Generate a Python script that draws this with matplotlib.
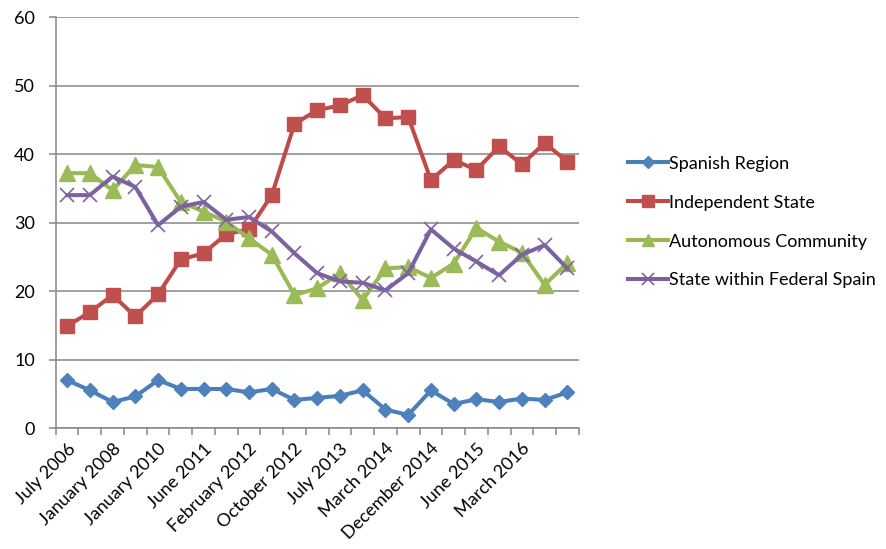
import numpy as np
import matplotlib.pyplot as plt
from matplotlib.lines import Line2D

# Survey waves (only every other one carries a label on the axis)
dates = ["July 2006", "", "January 2008", "", "January 2010", "", "June 2011", "",
         "February 2012", "", "October 2012", "", "July 2013", "", "March 2014", "",
         "December 2014", "", "June 2015", "", "March 2016", "", ""]

spanish_region = [7.0, 5.5, 3.8, 4.6, 7.0, 5.7, 5.7, 5.7, 5.2, 5.7, 4.1, 4.4,
                  4.7, 5.5, 2.7, 1.9, 5.5, 3.5, 4.2, 3.8, 4.3, 4.1, 5.2]
independent_state = [14.9, 16.9, 19.4, 16.3, 19.5, 24.6, 25.5, 28.3, 29.0, 34.0, 44.4, 46.4,
                     47.1, 48.6, 45.2, 45.4, 36.2, 39.1, 37.7, 41.1, 38.5, 41.6, 38.9]
autonomous_community = [37.2, 37.2, 34.7, 38.4, 38.1, 33.0, 31.6, 30.1, 27.7, 25.3, 19.4, 20.4,
                        22.6, 18.7, 23.3, 23.5, 21.9, 24.0, 29.2, 27.2, 25.6, 20.9, 24.1]
federal_state = [34.0, 34.0, 36.7, 35.2, 29.6, 32.3, 33.0, 30.4, 30.8, 28.7, 25.5, 22.6,
                 21.4, 21.2, 20.1, 22.6, 29.0, 26.2, 24.3, 22.3, 25.3, 26.7, 23.3]

series = [
    ("Spanish Region", spanish_region, "#4A7EBB", "#4F81BD", "D", 7.5),
    ("Independent State", independent_state, "#BE4B48", "#C0504D", "s", 10.5),
    ("Autonomous Community", autonomous_community, "#98B954", "#9BBB59", "^", 11),
    ("State within Federal Spain", federal_state, "#7D60A0", "#8064A2", "x", 10),
]

plt.rcParams['font.family'] = ['Lato', 'DejaVu Sans']
grey = "#868686"
fs = 13

fig = plt.figure(figsize=(8.86, 5.49), dpi=100)
ax = fig.add_axes([0.0629, 0.2204, 0.5903, 0.7486])

x = np.arange(len(dates))
handles = []
for name, vals, lc, mc, mk, ms in series:
    if mk == "x":
        ax.plot(x, vals, color=lc, lw=2.9, marker=mk, ms=ms, mec=mc, mew=1.2, zorder=3)
        h = Line2D([], [], color=lc, lw=2.9, marker=mk, ms=ms * 0.8, mec=mc, mew=1.2)
    else:
        ax.plot(x, vals, color=lc, lw=2.9, marker=mk, ms=ms, mfc=mc, mec=mc, zorder=3)
        h = Line2D([], [], color=lc, lw=2.9, marker=mk, ms=ms * 0.8, mfc=mc, mec=mc)
    handles.append((h, name))

ax.set_xlim(-0.5, len(dates) - 0.5)
ax.set_ylim(0, 60)
ax.set_yticks(range(0, 61, 10))
ax.yaxis.grid(True, color=grey, lw=1.1)
ax.set_axisbelow(True)

# ticks sit between categories, labels on every other category
ax.set_xticks(np.arange(-0.5, len(dates), 1.0))
ax.set_xticklabels([])
lab_idx = [i for i, d in enumerate(dates) if d]
ax.set_xticks(lab_idx, minor=True)
ax.set_xticklabels([dates[i] for i in lab_idx], minor=True, rotation=45,
                   ha="right", rotation_mode="anchor", fontsize=fs)
ax.tick_params(axis="x", which="minor", length=0, pad=9)
ax.tick_params(axis="x", which="major", length=5, color=grey, width=1.1)
ax.tick_params(axis="y", length=5, color=grey, width=1.1, labelsize=fs, pad=10)

for s in ["top", "right"]:
    ax.spines[s].set_visible(False)
for s in ["left", "bottom"]:
    ax.spines[s].set_color(grey)
    ax.spines[s].set_linewidth(1.1)

fig.legend([h for h, _ in handles], [n for _, n in handles], loc="center left",
           bbox_to_anchor=(0.709, 0.5955), frameon=False, fontsize=fs,
           borderpad=0, borderaxespad=0,
           handlelength=2.2, handletextpad=0.05, labelspacing=1.27)

fig.savefig("out.png", dpi=100)
